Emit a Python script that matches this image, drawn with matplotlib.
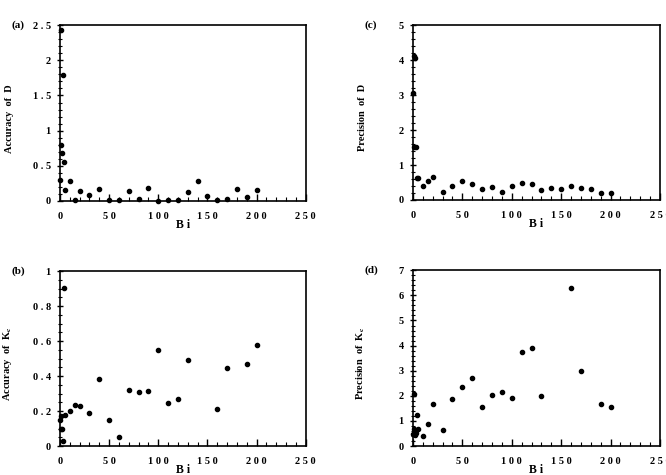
import numpy as np
import matplotlib
matplotlib.use("Agg")
import matplotlib.pyplot as plt
from matplotlib.ticker import MultipleLocator

plt.rcParams["font.family"] = ["Liberation Serif", "DejaVu Serif"]
plt.rcParams["font.weight"] = "bold"
plt.rcParams["mathtext.fontset"] = "stix"

nan = np.nan

# Biot numbers shared by all four panels
bi = [0.5, 1, 1.5, 2, 3, 4, 5, 10, 15, 20, 30, 40, 50, 60, 70, 80, 90, 100,
      110, 120, 130, 140, 150, 160, 170, 180, 190, 200]

acc_d = [0.30, 0.80, 2.43, 0.68, 1.79, 0.56, 0.16, 0.28, 0.02, 0.14, 0.08, 0.175,
         0.01, 0.01, 0.14, 0.03, 0.19, 0.005, 0.01, 0.01, 0.13, 0.28, 0.07,
         0.01, 0.03, 0.165, 0.06, 0.15]
acc_kc = [0.15, 0.10, 0.17, 0.10, 0.03, 0.905, 0.18, 0.20, 0.236, 0.23, 0.19, 0.385,
          0.15, 0.05, 0.318, 0.307, 0.316, 0.552, 0.244, 0.27, 0.49, nan, nan,
          0.21, 0.446, nan, 0.47, 0.58]
prec_d = [3.07, 4.12, 1.51, 4.06, 1.51, 0.62, 0.62, 0.40, 0.55, 0.66, 0.24, 0.40,
          0.53, 0.45, 0.30, 0.37, 0.24, 0.40, 0.48, 0.47, 0.28, 0.35, 0.30,
          0.40, 0.35, 0.31, 0.19, 0.21]
prec_kc = [0.49, 2.09, 0.69, 0.42, 0.52, 1.22, 0.69, 0.41, 0.88, 1.69, 0.65, 1.86,
           2.36, 2.70, 1.55, 2.03, 2.15, 1.90, 3.75, 3.90, 1.99, nan, nan,
           6.31, 3.00, nan, 1.69, 1.55]

x_ticks = [0, 50, 100, 150, 200, 250]
x_ticklabels = ["0", "5 0", "1 0 0", "1 5 0", "2 0 0", "2 5 0"]

panels = [
    # letter, values, ylabel, ymax, major, minor, tick labels, rect
    ("(a)", acc_d, "Accuracy  of  D", 2.5, 0.5, 0.1,
     ["0", "0 . 5", "1", "1 . 5", "2", "2 . 5"], [0.090, 0.577, 0.369, 0.370]),
    ("(c)", prec_d, "Precision  of  D", 5, 1, 0.2,
     ["0", "1", "2", "3", "4", "5"], [0.620, 0.579, 0.371, 0.368]),
    ("(b)", acc_kc, "Accuracy  of  K$_\\mathbf{c}$", 1, 0.2, 0.05,
     ["0", "0 . 2", "0 . 4", "0 . 6", "0 . 8", "1"], [0.090, 0.061, 0.369, 0.368]),
    ("(d)", prec_kc, "Precision  of  K$_\\mathbf{c}$", 7, 1, 0.2,
     ["0", "1", "2", "3", "4", "5", "6", "7"], [0.620, 0.061, 0.371, 0.370]),
]

fig = plt.figure(figsize=(6.66, 4.75), dpi=100)

for letter, vals, ylab, ymax, major, minor, ylabels, rect in panels:
    ax = fig.add_axes(rect)
    ax.plot(bi, vals, "o", color="black", markersize=3.0, clip_on=False)
    ax.set_xlim(0, 250)
    ax.set_ylim(0, ymax)
    ax.set_xticks(x_ticks)
    ax.set_xticklabels(x_ticklabels)
    ax.xaxis.set_minor_locator(MultipleLocator(10))
    yt = np.arange(0, ymax + major / 2, major)
    ax.set_yticks(yt)
    ax.set_yticklabels(ylabels)
    ax.yaxis.set_minor_locator(MultipleLocator(minor))
    ax.tick_params(axis="x", which="both", direction="in", labelsize=7.5, pad=8)
    ax.tick_params(axis="y", which="both", direction="inout", labelsize=7.5, pad=4)
    ax.tick_params(which="major", length=5, width=1)
    ax.tick_params(which="minor", length=3, width=0.8)
    for s in ax.spines.values():
        s.set_linewidth(1.2)
    ax.set_xlabel("B i", fontsize=8.5, fontweight="bold", labelpad=-1.5)
    ax.set_ylabel(ylab, fontsize=7.5, fontweight="bold")
    ax.yaxis.set_label_coords(-0.185, 0.47)
    ax.text(-0.17, 1.0, letter, transform=ax.transAxes, fontsize=8,
            fontweight="bold", ha="center", va="center")

fig.savefig("out.png", dpi=100)
